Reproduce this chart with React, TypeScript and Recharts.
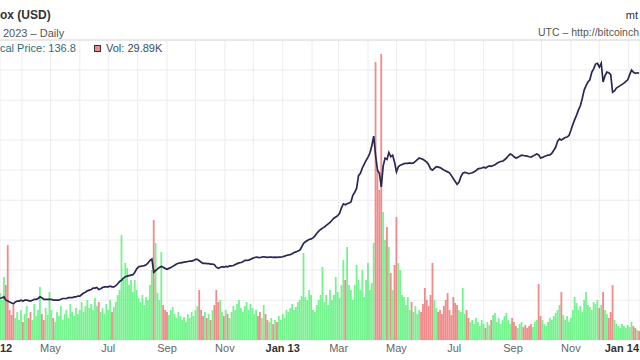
import React from 'react';
import { ComposedChart, Bar, Line, XAxis, YAxis, CartesianGrid, Cell, ReferenceLine } from 'recharts';

// first sample is 9 Mar 2012, one sample every 2 days
const START = Date.UTC(2012, 2, 9);
const STEP_DAYS = 2;
const DAY = 86400000;

// closing price, USD
const prices = [
  5.2, 5.3, 5.4, 5.0, 4.9, 4.8, 4.7, 4.6, 4.8, 4.9,
  4.9, 5.0, 4.9, 5.0, 5.0, 4.95, 4.9, 5.0, 5.1, 5.1,
  5.2, 5.4, 5.3, 5.1, 5.1, 5.1, 5.1, 5.1, 5.0, 5.0,
  5.0, 5.0, 5.1, 5.2, 5.2, 5.2, 5.3, 5.3, 5.3, 5.4,
  5.4, 5.5, 5.5, 5.7, 5.9, 6.0, 6.2, 6.3, 6.4, 6.6,
  6.6, 6.7, 6.4, 6.5, 6.7, 6.8, 6.8, 6.8, 6.9, 6.8,
  6.8, 7.0, 7.3, 7.7, 7.9, 8.3, 8.6, 8.7, 8.8, 8.9,
  9.0, 9.5, 10.3, 10.8, 10.9, 11.0, 11.1, 11.3, 11.8, 12.5,
  12.9, 9.5, 9.9, 10.3, 10.6, 10.9, 10.7, 10.4, 10.2, 10.4,
  10.6, 10.9, 11.2, 11.5, 11.7, 11.8, 11.9, 12.0, 12.1, 12.2,
  12.3, 12.3, 12.5, 12.8, 12.8, 12.4, 12.0, 11.7, 11.7, 11.6,
  11.6, 11.5, 11.5, 11.3, 10.7, 10.4, 10.6, 10.8, 10.7, 10.9,
  10.8, 11.0, 11.0, 11.1, 11.4, 11.6, 11.8, 11.9, 12.1, 12.5,
  12.5, 12.6, 12.8, 13.1, 13.3, 13.5, 13.4, 13.3, 13.5, 13.6,
  13.5, 13.4, 13.5, 13.5, 13.4, 13.5, 13.4, 13.5, 13.5, 13.6,
  13.8, 14.0, 14.2, 14.3, 14.6, 15.0, 15.2, 15.5, 15.8, 17.0,
  18.5, 19.2, 19.8, 20.2, 20.5, 21.0, 22.0, 23.4, 24.5, 25.5,
  26.3, 27.0, 28.0, 29.0, 30.0, 31.5, 33.0, 34.0, 35.0, 37.0,
  42, 46, 45, 46, 47, 48, 56, 60, 66, 88,
  93, 105, 115, 125, 135, 148, 175, 219, 140, 100,
  93, 68, 110, 132, 128, 150, 136, 141, 120, 96,
  108, 112, 114, 116, 117, 117, 118, 117, 118, 122,
  127, 132, 130, 128, 124, 120, 113, 103, 100, 104,
  108, 107, 106, 103, 100, 98, 96, 94, 88, 82,
  77, 72, 76, 86, 93, 95, 94, 92, 93, 94,
  96, 99, 103, 104, 105, 107, 105, 108, 110, 109,
  111, 113, 117, 120, 122, 123, 127, 132, 139, 145,
  142, 136, 132, 134, 138, 141, 140, 139, 138, 136,
  135, 138, 142, 145, 142, 132, 134, 137, 139, 141,
  142, 148, 158, 170, 195, 205, 200, 206, 212, 214,
  222, 250, 285, 320, 355, 400, 440, 520, 631, 700,
  760, 800, 950, 1030, 1150, 1170, 1070, 1170, 760, 880,
  955, 940, 900, 600, 620, 661, 680, 700, 720, 740,
  770, 800, 900, 1000, 950, 930, 940, 930,
];

// traded volume, thousands of BTC
const volumes = [
  94, 80, 126, 110, 190, 60, 50, 70, 44, 56,
  40, 60, 36, 52, 68, 44, 56, 40, 72, 48,
  60, 106, 52, 40, 64, 50, 96, 60, 44, 36,
  56, 48, 68, 40, 52, 60, 44, 72, 56, 48,
  64, 52, 60, 76, 56, 68, 80, 64, 72, 60,
  84, 68, 76, 56, 64, 52, 72, 60, 80, 56,
  66, 76, 90, 100, 210, 120, 154, 144, 110, 120,
  96, 120, 100, 84, 76, 90, 70, 86, 80, 110,
  140, 240, 194, 94, 80, 176, 70, 60, 56, 50,
  60, 66, 52, 44, 56, 48, 40, 46, 36, 52,
  44, 56, 48, 60, 68, 100, 60, 48, 56, 44,
  52, 40, 60, 70, 100, 76, 80, 56, 48, 60,
  52, 44, 56, 68, 60, 72, 80, 64, 56, 68,
  76, 60, 72, 64, 52, 60, 48, 56, 44, 70,
  52, 40, 36, 44, 32, 40, 36, 48, 40, 52,
  44, 60, 56, 64, 72, 60, 66, 76, 80, 88,
  174, 86, 80, 100, 90, 60, 56, 70, 80, 90,
  146, 76, 90, 70, 100, 80, 90, 126, 96, 84,
  110, 160, 120, 186, 110, 100, 80, 110, 150, 120,
  100, 140, 86, 120, 154, 100, 114, 194, 556, 340,
  300, 572, 256, 200, 226, 186, 134, 100, 150, 246,
  154, 140, 90, 86, 70, 86, 60, 76, 56, 68,
  52, 60, 56, 72, 104, 80, 68, 90, 154, 80,
  64, 56, 60, 52, 68, 80, 94, 60, 50, 86,
  74, 70, 60, 56, 104, 52, 60, 44, 36, 40,
  32, 44, 36, 28, 40, 32, 24, 36, 30, 40,
  50, 54, 36, 44, 32, 40, 48, 54, 40, 32,
  44, 36, 28, 24, 32, 36, 26, 30, 24, 28,
  32, 26, 36, 40, 112, 48, 40, 32, 28, 36,
  44, 40, 48, 54, 60, 70, 96, 50, 40, 48,
  36, 44, 60, 86, 74, 60, 68, 56, 80, 96,
  70, 66, 60, 76, 72, 80, 64, 70, 96, 60,
  52, 44, 56, 110, 40, 32, 28, 24, 32, 28,
  24, 30, 26, 36, 28, 24, 20, 18,
];

const monthTicks = [
  '2012-04', '2012-05', '2012-06', '2012-07', '2012-08', '2012-09', '2012-10', '2012-11', '2012-12',
  '2013-01', '2013-02', '2013-03', '2013-04', '2013-05', '2013-06', '2013-07', '2013-08', '2013-09',
  '2013-10', '2013-11', '2013-12', '2014-01',
];
const monthNames = ['Jan', 'Feb', 'Mar', 'Apr', 'May', 'Jun', 'Jul', 'Aug', 'Sep', 'Oct', 'Nov', 'Dec'];
const priceTicks = [2, 5, 10, 20, 50, 100, 200, 500, 1000, 2000];

const toDay = (ms: number) => ms / DAY;
const tickDays = monthTicks.map(m => toDay(Date.UTC(+m.slice(0, 4), +m.slice(5, 7) - 1, 1)));

const data = prices.map((p, i) => ({
  day: toDay(START) + i * STEP_DAYS,
  price: p,
  vol: volumes[i],
  up: i === 0 || p >= prices[i - 1],
}));

const X_DOMAIN = [toDay(START) - 0.2, toDay(START) + 674.9];

const FONT = '"Liberation Sans", Arial, sans-serif';
const GREEN = '#55f075';
const RED = '#ee7070';

const MonthTick = (props: any) => {
  const { x, y, payload } = props;
  const d = new Date(payload.value * DAY);
  const m = d.getUTCMonth();
  if (m % 2 === 1) return <g />;
  const isJan = m === 0;
  const label = isJan ? `Jan ${String(d.getUTCFullYear()).slice(2)}` : monthNames[m];
  // last label would run past the right edge
  const atEdge = x > 615;
  return (
    <text x={atEdge ? 639 : x} y={y} dy={8} textAnchor={atEdge ? 'end' : 'middle'} fontSize={11} fontFamily={FONT}
      fontWeight={isJan ? 700 : 400} fill={isJan ? '#333' : '#666'}>
      {label}
    </text>
  );
};

export default function App() {
  return (
    <div style={{ position: 'absolute', left: 0, top: 0, width: 640, height: 360, overflow: 'hidden', background: '#fff' }}>
      <ComposedChart width={640} height={360} data={data} margin={{ top: 40, right: 0, bottom: 0, left: 0 }}>
        <CartesianGrid yAxisId="p" stroke="#ececec" />
        <XAxis dataKey="day" type="number" domain={X_DOMAIN} allowDataOverflow ticks={tickDays}
          tick={<MonthTick />} tickLine={false} axisLine={false} tickSize={0} tickMargin={4} height={20} interval={0} />
        <YAxis yAxisId="p" scale="log" domain={[2, 2000]} ticks={priceTicks} allowDataOverflow hide width={0} />
        <YAxis yAxisId="v" domain={[0, 600]} allowDataOverflow hide width={0} />
        <ReferenceLine yAxisId="p" y={2000} stroke="#dcdcdc" />
        <Bar yAxisId="v" dataKey="vol" barSize={1.8} isAnimationActive={false}>
          {data.map((d, i) => (
            <Cell key={`v-${i}`} fill={d.up ? GREEN : RED} fillOpacity={0.82} />
          ))}
        </Bar>
        <Line yAxisId="p" dataKey="price" type="linear" stroke="#2a2850" strokeWidth={1.7} dot={false} isAnimationActive={false} />
      </ComposedChart>
      <svg width={640} height={360} style={{ position: 'absolute', left: 0, top: 0, pointerEvents: 'none' }} fontFamily={FONT}>
        <text x={0} y={19} fontSize={12} fontWeight={700} fill="#333">ox (USD)</text>
        <text x={3} y={37} fontSize={11} fill="#555">2023 – Daily</text>
        <text x={0} y={52} fontSize={11} fill="#2b6c7a">cal Price: 136.8</text>
        <rect x={94.5} y={45.5} width={6} height={6} fill="#f08a8a" stroke="#333" />
        <text x={106} y={52} fontSize={11} fill="#2f4f66">Vol: 29.89K</text>
        <text x={638} y={19} fontSize={11} fill="#333" textAnchor="end">mt</text>
        <text x={639} y={36} fontSize={10.5} fill="#555" textAnchor="end">UTC – http://bitcoinch</text>
        <text x={0} y={352} fontSize={11} fontWeight={700} fill="#333">12</text>
      </svg>
    </div>
  );
}
